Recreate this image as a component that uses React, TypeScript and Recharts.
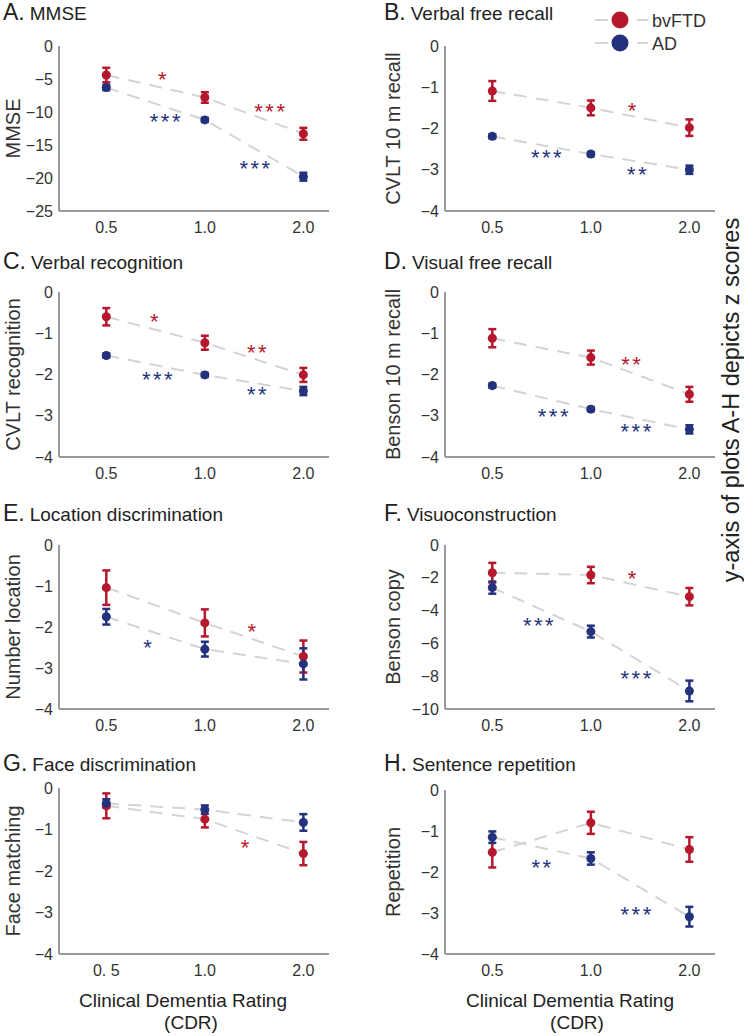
import React from 'react';
import { ComposedChart, Line, Scatter, XAxis, YAxis, ErrorBar, Legend, Label } from 'recharts';

const RED = '#b5182d';
const BLUE = '#24317c';
const DASH = '#d4d4d4';
const AXIS = '#9a9a9a';
const TXT = '#333333';

const cdrIndex = [0, 1, 2];
const cdrLabels = ['0.5', '1.0', '2.0'];
const cdrLabelsG = ['0. 5', '1.0', '2.0'];

// A. MMSE
const mmseFtd = [-4.4, -7.8, -13.3];
const mmseFtdErr = [1.1, 0.8, 0.9];
const mmseAd = [-6.3, -11.2, -19.8];
const mmseAdErr = [0.4, 0.3, 0.6];
const mmseStarsFtd = [{ x: 0.58, y: -4.4, t: '*' }, { x: 1.67, y: -9.2, t: '***' }];
const mmseStarsAd = [{ x: 0.61, y: -10.8, t: '***' }, { x: 1.52, y: -17.9, t: '***' }];

// B. Verbal free recall
const cvltFtd = [-1.09, -1.5, -1.98];
const cvltFtdErr = [0.24, 0.18, 0.2];
const cvltAd = [-2.19, -2.62, -3.0];
const cvltAdErr = [0.05, 0.05, 0.1];
const cvltStarsFtd = [{ x: 1.43, y: -1.46, t: '*' }];
const cvltStarsAd = [{ x: 0.56, y: -2.6, t: '***' }, { x: 1.48, y: -3.0, t: '**' }];

// C. Verbal recognition
const recFtd = [-0.6, -1.23, -2.01];
const recFtdErr = [0.21, 0.17, 0.17];
const recAd = [-1.54, -2.01, -2.4];
const recAdErr = [0.05, 0.05, 0.1];
const recStarsFtd = [{ x: 0.5, y: -0.6, t: '*' }, { x: 1.54, y: -1.36, t: '**' }];
const recStarsAd = [{ x: 0.53, y: -2.01, t: '***' }, { x: 1.54, y: -2.38, t: '**' }];

// D. Visual free recall
const bensonFtd = [-1.12, -1.59, -2.48];
const bensonFtdErr = [0.22, 0.17, 0.18];
const bensonAd = [-2.27, -2.84, -3.33];
const bensonAdErr = [0.05, 0.05, 0.1];
const bensonStarsFtd = [{ x: 1.42, y: -1.64, t: '**' }];
const bensonStarsAd = [{ x: 0.63, y: -2.9, t: '***' }, { x: 1.47, y: -3.27, t: '***' }];

// E. Location discrimination
const locFtd = [-1.04, -1.9, -2.72];
const locFtdErr = [0.42, 0.33, 0.39];
const locAd = [-1.75, -2.54, -2.9];
const locAdErr = [0.19, 0.18, 0.38];
const locStarsFtd = [{ x: 1.49, y: -1.99, t: '*' }];
const locStarsAd = [{ x: 0.43, y: -2.38, t: '*' }];

// F. Visuoconstruction
const copyFtd = [-1.69, -1.83, -3.15];
const copyFtdErr = [0.6, 0.5, 0.53];
const copyAd = [-2.6, -5.28, -8.9];
const copyAdErr = [0.37, 0.36, 0.63];
const copyStarsFtd = [{ x: 1.43, y: -1.77, t: '*' }];
const copyStarsAd = [{ x: 0.48, y: -4.63, t: '***' }, { x: 1.47, y: -7.88, t: '***' }];

// G. Face discrimination
const faceFtd = [-0.43, -0.75, -1.58];
const faceFtdErr = [0.3, 0.2, 0.28];
const faceAd = [-0.37, -0.52, -0.83];
const faceAdErr = [0.1, 0.1, 0.2];
const faceStarsFtd = [{ x: 1.42, y: -1.32, t: '*' }];
const faceStarsAd: { x: number; y: number; t: string }[] = [];

// H. Sentence repetition
const repFtd = [-1.52, -0.8, -1.45];
const repFtdErr = [0.37, 0.27, 0.3];
const repAd = [-1.15, -1.67, -3.09];
const repAdErr = [0.14, 0.15, 0.24];
const repStarsFtd: { x: number; y: number; t: string }[] = [];
const repStarsAd = [{ x: 0.51, y: -1.79, t: '**' }, { x: 1.47, y: -2.93, t: '***' }];

const ticks4 = [0, -1, -2, -3, -4];
const ticks25 = [0, -5, -10, -15, -20, -25];
const ticks10 = [0, -2, -4, -6, -8, -10];

const legendItems = [
  { name: 'bvFTD', color: RED },
  { name: 'AD', color: BLUE },
];

const pts = (m: number[], e: number[]) => cdrIndex.map((x, i) => ({ x, y: m[i], e: e[i] }));

type Star = { x: number; y: number; t: string };
type PanelCfg = {
  letter: string;
  title: string;
  ylabel: string;
  col: number;
  top: number;
  height: number;
  plotTop: number;
  plotBottom: number;
  yMin: number;
  yTicks: number[];
  ftd: number[];
  ftdErr: number[];
  ad: number[];
  adErr: number[];
  starsFtd: Star[];
  starsAd: Star[];
  xLabels: string[];
  titleY: number;
  legend?: boolean;
};

const panels: PanelCfg[] = [
  { letter: 'A.', title: 'MMSE', ylabel: 'MMSE', col: 0, top: 0, height: 250, plotTop: 46, plotBottom: 211, yMin: -25, yTicks: ticks25, ftd: mmseFtd, ftdErr: mmseFtdErr, ad: mmseAd, adErr: mmseAdErr, starsFtd: mmseStarsFtd, starsAd: mmseStarsAd, xLabels: cdrLabels, titleY: 20 },
  { letter: 'B.', title: 'Verbal free recall', ylabel: 'CVLT 10 m recall', col: 1, top: 0, height: 250, plotTop: 46, plotBottom: 211, yMin: -4, yTicks: ticks4, ftd: cvltFtd, ftdErr: cvltFtdErr, ad: cvltAd, adErr: cvltAdErr, starsFtd: cvltStarsFtd, starsAd: cvltStarsAd, xLabels: cdrLabels, titleY: 20, legend: true },
  { letter: 'C.', title: 'Verbal recognition', ylabel: 'CVLT recognition', col: 0, top: 250, height: 250, plotTop: 292, plotBottom: 457, yMin: -4, yTicks: ticks4, ftd: recFtd, ftdErr: recFtdErr, ad: recAd, adErr: recAdErr, starsFtd: recStarsFtd, starsAd: recStarsAd, xLabels: cdrLabels, titleY: 269 },
  { letter: 'D.', title: 'Visual free recall', ylabel: 'Benson 10 m recall', col: 1, top: 250, height: 250, plotTop: 292, plotBottom: 457, yMin: -4, yTicks: ticks4, ftd: bensonFtd, ftdErr: bensonFtdErr, ad: bensonAd, adErr: bensonAdErr, starsFtd: bensonStarsFtd, starsAd: bensonStarsAd, xLabels: cdrLabels, titleY: 269 },
  { letter: 'E.', title: 'Location discrimination', ylabel: 'Number location', col: 0, top: 500, height: 250, plotTop: 545, plotBottom: 709, yMin: -4, yTicks: ticks4, ftd: locFtd, ftdErr: locFtdErr, ad: locAd, adErr: locAdErr, starsFtd: locStarsFtd, starsAd: locStarsAd, xLabels: cdrLabels, titleY: 521 },
  { letter: 'F.', title: 'Visuoconstruction', ylabel: 'Benson copy', col: 1, top: 500, height: 250, plotTop: 545, plotBottom: 709, yMin: -10, yTicks: ticks10, ftd: copyFtd, ftdErr: copyFtdErr, ad: copyAd, adErr: copyAdErr, starsFtd: copyStarsFtd, starsAd: copyStarsAd, xLabels: cdrLabels, titleY: 521 },
  { letter: 'G.', title: 'Face discrimination', ylabel: 'Face matching', col: 0, top: 750, height: 286, plotTop: 788, plotBottom: 954, yMin: -4, yTicks: ticks4, ftd: faceFtd, ftdErr: faceFtdErr, ad: faceAd, adErr: faceAdErr, starsFtd: faceStarsFtd, starsAd: faceStarsAd, xLabels: cdrLabelsG, titleY: 771 },
  { letter: 'H.', title: 'Sentence repetition', ylabel: 'Repetition', col: 1, top: 750, height: 286, plotTop: 790, plotBottom: 954, yMin: -4, yTicks: ticks4, ftd: repFtd, ftdErr: repFtdErr, ad: repAd, adErr: repAdErr, starsFtd: repStarsFtd, starsAd: repStarsAd, xLabels: cdrLabels, titleY: 771 },
];

const FONT = '"Liberation Sans", Arial, Helvetica, sans-serif';
const fmtY = (v: number) => (v < 0 ? '\u2212' + Math.abs(v) : String(v));

const starShape = (color: string) => (props: any) => (
  <text
    x={props.cx}
    y={props.cy + 12}
    textAnchor="middle"
    fill={color}
    fontSize={22}
    fontFamily={FONT}
    letterSpacing={2.5}
  >
    {props.payload.t}
  </text>
);

const LegendBox = () => (
  <svg width={140} height={56} style={{ overflow: 'visible', display: 'block' }}>
    {legendItems.map((it, i) => {
      const cy = 20 + i * 23;
      return (
        <g key={it.name}>
          <line x1={3} x2={16} y1={cy} y2={cy} stroke={DASH} strokeWidth={2} />
          <line x1={45} x2={56} y1={cy} y2={cy} stroke={DASH} strokeWidth={2} />
          <circle cx={28} cy={cy} r={8.5} fill={it.color} />
          <text x={60} y={cy + 6.5} fontSize={18} fontFamily={FONT} fill={TXT}>
            {it.name}
          </text>
        </g>
      );
    })}
  </svg>
);

function Panel({ p }: { p: PanelCfg }) {
  const left = p.col === 0 ? 0 : 372;
  const plotLeft = p.col === 0 ? 59 : 445;
  const plotRight = p.col === 0 ? 329 : 715;
  const yAxisW = 45;
  const xAxisH = 30;
  const margin = {
    top: p.plotTop - p.top,
    bottom: p.top + p.height - p.plotBottom - xAxisH,
    left: plotLeft - left - yAxisW,
    right: left + 372 - plotRight,
  };
  const ftdPts = pts(p.ftd, p.ftdErr);
  const adPts = pts(p.ad, p.adErr);
  const labelX = p.col === 0 ? 13 : 21;
  const centerY = (p.plotTop + p.plotBottom) / 2 - p.top;
  return (
    <div style={{ position: 'absolute', left, top: p.top }}>
      <ComposedChart width={372} height={p.height} margin={margin}>
        <XAxis
          type="number"
          dataKey="x"
          domain={[-0.48, 2.26]}
          ticks={cdrIndex}
          tickFormatter={(i: number) => p.xLabels[i]}
          allowDataOverflow
          tickLine={false}
          axisLine={{ stroke: AXIS, strokeWidth: 2 }}
          tick={{ fill: TXT, fontSize: 16, fontFamily: FONT }}
          tickMargin={5}
          height={xAxisH}
        />
        <YAxis
          type="number"
          dataKey="y"
          domain={[p.yMin, 0]}
          ticks={p.yTicks}
          tickFormatter={fmtY}
          allowDataOverflow
          tickLine={false}
          axisLine={{ stroke: AXIS, strokeWidth: 2 }}
          tick={{ fill: TXT, fontSize: 16, fontFamily: FONT }}
          tickMargin={0}
          width={yAxisW}
        >
          <Label
            content={() => (
              <text
                x={labelX}
                y={centerY}
                transform={`rotate(-90 ${labelX} ${centerY})`}
                textAnchor="middle"
                dominantBaseline="central"
                fontSize={20}
                fontFamily={FONT}
                fill={TXT}
              >
                {p.ylabel}
              </text>
            )}
          />
        </YAxis>
        <Line data={ftdPts} dataKey="y" stroke={DASH} strokeWidth={2} strokeDasharray="13 9" dot={false} activeDot={false} isAnimationActive={false} />
        <Line data={adPts} dataKey="y" stroke={DASH} strokeWidth={2} strokeDasharray="13 9" dot={false} activeDot={false} isAnimationActive={false} />
        <Scatter data={ftdPts} fill={RED} isAnimationActive={false}>
          <ErrorBar dataKey="e" direction="y" width={4} strokeWidth={2.5} stroke={RED} />
        </Scatter>
        <Scatter data={adPts} fill={BLUE} isAnimationActive={false}>
          <ErrorBar dataKey="e" direction="y" width={4} strokeWidth={2.5} stroke={BLUE} />
        </Scatter>
        <Scatter data={p.starsFtd} shape={starShape(RED)} isAnimationActive={false} />
        <Scatter data={p.starsAd} shape={starShape(BLUE)} isAnimationActive={false} />
        {p.legend && (
          <Legend
            layout="vertical"
            align="center"
            verticalAlign="middle"
            wrapperStyle={{ position: 'absolute', left: 220, top: 0, width: 140, height: 56 }}
            content={() => <LegendBox />}
          />
        )}
      </ComposedChart>
    </div>
  );
}

export default function App() {
  return (
    <div style={{ position: 'absolute', left: 0, top: 0, width: 744, height: 1036, background: '#fff', fontFamily: FONT }}>
      {panels.map((p) => (
        <Panel key={p.letter} p={p} />
      ))}
      <svg width={744} height={1036} style={{ position: 'absolute', left: 0, top: 0, pointerEvents: 'none' }}>
        {panels.map((p) => (
          <text key={p.letter} x={p.col === 0 ? 3 : 384} y={p.titleY} fontFamily={FONT} fill="#222">
            <tspan fontSize={23}>{p.letter}</tspan>
            <tspan fontSize={19} dx={5}>{p.title}</tspan>
          </text>
        ))}
        <text x={183} y={1007} textAnchor="middle" fontSize={19} fontFamily={FONT} fill="#222">Clinical Dementia Rating</text>
        <text x={191} y={1029} textAnchor="middle" fontSize={19} fontFamily={FONT} fill="#222">(CDR)</text>
        <text x={570} y={1007} textAnchor="middle" fontSize={19} fontFamily={FONT} fill="#222">Clinical Dementia Rating</text>
        <text x={577} y={1029} textAnchor="middle" fontSize={19} fontFamily={FONT} fill="#222">(CDR)</text>
        <text
          x={731}
          y={400}
          transform="rotate(-90 731 400)"
          textAnchor="middle"
          dominantBaseline="central"
          fontSize={23.5}
          fontFamily={FONT}
          fill="#222"
        >
          y-axis of plots A-H depicts z scores
        </text>
      </svg>
    </div>
  );
}
